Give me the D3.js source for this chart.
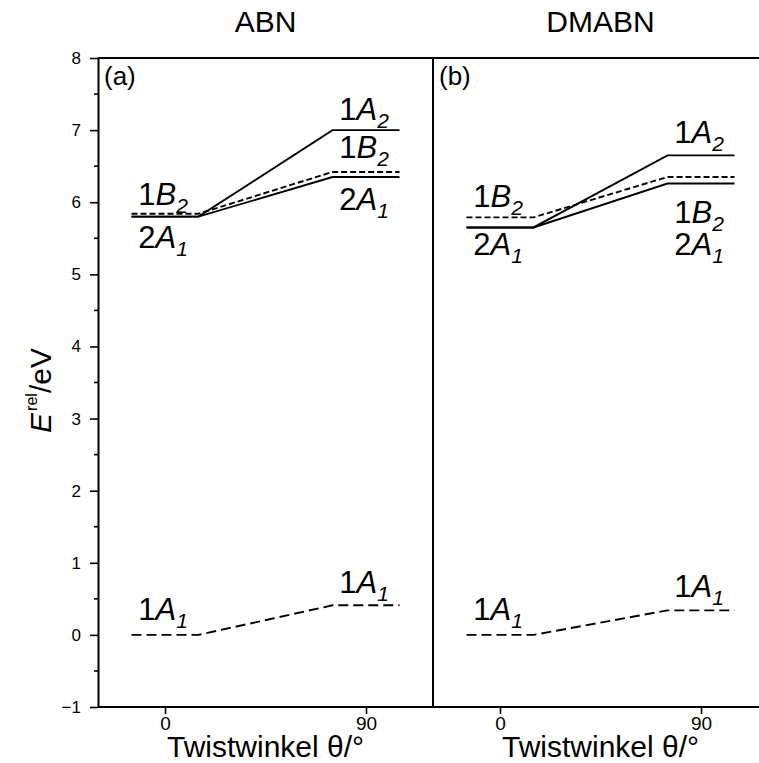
<!DOCTYPE html>
<html>
<head>
<meta charset="utf-8">
<script src="https://cdn.jsdelivr.net/npm/d3@7"></script>
<style>
  body { margin: 0; background: #fff; }
  svg { font-family: "Liberation Sans", Arial, sans-serif; }
</style>
</head>
<body>
<div id="chart"></div>
<script>
// ----------- Data ----------
var molecules = ["ABN", "DMABN"];
var panelTags = ["(a)", "(b)"];
var angles = [0, 90];
// state name: [number, letter, subscript]
var states = ["1A1", "2A1", "1B2", "1A2"];
var stateParts = {
  "1A1": ["1", "A", "1"],
  "2A1": ["2", "A", "1"],
  "1B2": ["1", "B", "2"],
  "1A2": ["1", "A", "2"]
};
// energies (eV) at 0 and 90 degrees
var abnEnergies = {
  "1A1": [0.00, 0.41],
  "2A1": [5.80, 6.35],
  "1B2": [5.84, 6.42],
  "1A2": [5.80, 7.00]
};
var dmabnEnergies = {
  "1A1": [0.00, 0.34],
  "2A1": [5.65, 6.26],
  "1B2": [5.79, 6.35],
  "1A2": [5.65, 6.65]
};
var energies = [abnEnergies, dmabnEnergies];
var yTicks = [-1, 0, 1, 2, 3, 4, 5, 6, 7, 8];
var yMinorTicks = [-0.5, 0.5, 1.5, 2.5, 3.5, 4.5, 5.5, 6.5, 7.5];

// label placement: [state, angle index, pixel offset from level]
var abnLabels = [["1B2", 0, -9], ["2A1", 0, 31], ["1A2", 1, -10], ["1B2", 1, -14], ["2A1", 1, 33], ["1A1", 0, -15], ["1A1", 1, -12]];
var dmabnLabels = [["1B2", 0, -10], ["2A1", 0, 28], ["1A2", 1, -12], ["1B2", 1, 46], ["2A1", 1, 72], ["1A1", 0, -15], ["1A1", 1, -13]];
var labels = [abnLabels, dmabnLabels];

// ----------- Layout ----------
var W = 759, H = 763;
var plotTop = 58, plotBottom = 707;
var panelLeft = [98, 433];
var panelWidth = 335;
var halfWidth = 15;   // half width of an energy level (degrees)
var labelStart = -12; // where labels start (degrees, relative to level centre)

var svg = d3.select("#chart")
  .append("svg")
  .attr("width", W)
  .attr("height", H);

var y = d3.scaleLinear()
  .domain([-1, 8])
  .range([plotBottom, plotTop]);

var dashes = {
  "1A1": "10,5",
  "2A1": null,
  "1B2": "6,3",
  "1A2": null
};

// ----------- Panels ----------
molecules.forEach(function(mol, p) {
  var x = d3.scaleLinear()
    .domain([-30, 120])
    .range([panelLeft[p], panelLeft[p] + panelWidth]);

  var g = svg.append("g");

  // x axis
  var xAxis = g.append("g")
    .attr("transform", "translate(0," + plotBottom + ")")
    .call(d3.axisBottom(x).tickValues(angles).tickSize(7).tickPadding(3).tickSizeOuter(0));
  xAxis.select(".domain").remove();
  xAxis.selectAll("line").attr("stroke-width", 1.6);
  xAxis.selectAll("text").style("font-size", "19px").attr("fill", "#000");

  // level diagram lines
  states.forEach(function(s) {
    var e = energies[p][s];
    var pts = [];
    angles.forEach(function(a, i) {
      pts.push([a - halfWidth, e[i]]);
      pts.push([a + halfWidth, e[i]]);
    });
    g.append("path")
      .datum(pts)
      .attr("fill", "none")
      .attr("stroke", "#000")
      .attr("stroke-width", 1.9)
      .attr("stroke-dasharray", dashes[s])
      .attr("d", d3.line()
        .x(function(d) { return x(d[0]); })
        .y(function(d) { return y(d[1]); }));
  });

  // state labels
  labels[p].forEach(function(l) {
    var parts = stateParts[l[0]];
    var a = angles[l[1]];
    var t = g.append("text")
      .attr("x", x(a + labelStart))
      .attr("y", y(energies[p][l[0]][l[1]]) + l[2])
      .style("font-size", "31px");
    t.append("tspan").text(parts[0]);
    t.append("tspan").style("font-style", "italic").text(parts[1]);
    t.append("tspan")
      .style("font-style", "italic")
      .style("font-size", "21px")
      .attr("dy", 8)
      .text(parts[2]);
  });

  // molecule title
  svg.append("text")
    .attr("x", panelLeft[p] + panelWidth / 2)
    .attr("y", 32)
    .attr("text-anchor", "middle")
    .style("font-size", "30px")
    .text(mol);

  // panel tag
  g.append("text")
    .attr("x", panelLeft[p] + 6)
    .attr("y", 85)
    .style("font-size", "26px")
    .text(panelTags[p]);

  // x axis title
  svg.append("text")
    .attr("x", panelLeft[p] + panelWidth / 2)
    .attr("y", 757)
    .attr("text-anchor", "middle")
    .style("font-size", "30px")
    .text("Twistwinkel \u03b8/\u00b0");
});

// ----------- Frame ----------
svg.append("line")
  .attr("x1", panelLeft[0]).attr("x2", W)
  .attr("y1", plotTop).attr("y2", plotTop)
  .attr("stroke", "#000").attr("stroke-width", 2);
svg.append("line")
  .attr("x1", panelLeft[0]).attr("x2", W)
  .attr("y1", plotBottom).attr("y2", plotBottom)
  .attr("stroke", "#000").attr("stroke-width", 2);
svg.append("line")
  .attr("x1", panelLeft[1]).attr("x2", panelLeft[1])
  .attr("y1", plotTop).attr("y2", plotBottom)
  .attr("stroke", "#000").attr("stroke-width", 2);

// ----------- Y axis ----------
var yAxis = svg.append("g")
  .attr("transform", "translate(" + panelLeft[0] + ",0)")
  .call(d3.axisLeft(y).tickValues(yTicks).tickSize(8).tickPadding(9).tickSizeOuter(0));
yAxis.select(".domain").attr("stroke-width", 2);
yAxis.selectAll("line").attr("stroke-width", 1.6);
yAxis.selectAll("text").style("font-size", "17px").attr("fill", "#000");

svg.append("g")
  .attr("transform", "translate(" + panelLeft[0] + ",0)")
  .selectAll("line")
  .data(yMinorTicks)
  .enter().append("line")
  .attr("x1", -4).attr("x2", 0)
  .attr("y1", function(d) { return y(d); })
  .attr("y2", function(d) { return y(d); })
  .attr("stroke", "#000")
  .attr("stroke-width", 1.6);

// y axis title
var yt = svg.append("text")
  .attr("transform", "translate(51," + ((plotTop + plotBottom) / 2 + 8) + ") rotate(-90)")
  .attr("text-anchor", "middle")
  .style("font-size", "30px");
yt.append("tspan").style("font-style", "italic").text("E");
yt.append("tspan").style("font-size", "16px").attr("dy", -14).attr("dx", 2).text("rel");
yt.append("tspan").attr("dy", 14).text("/eV");
</script>
</body>
</html>
